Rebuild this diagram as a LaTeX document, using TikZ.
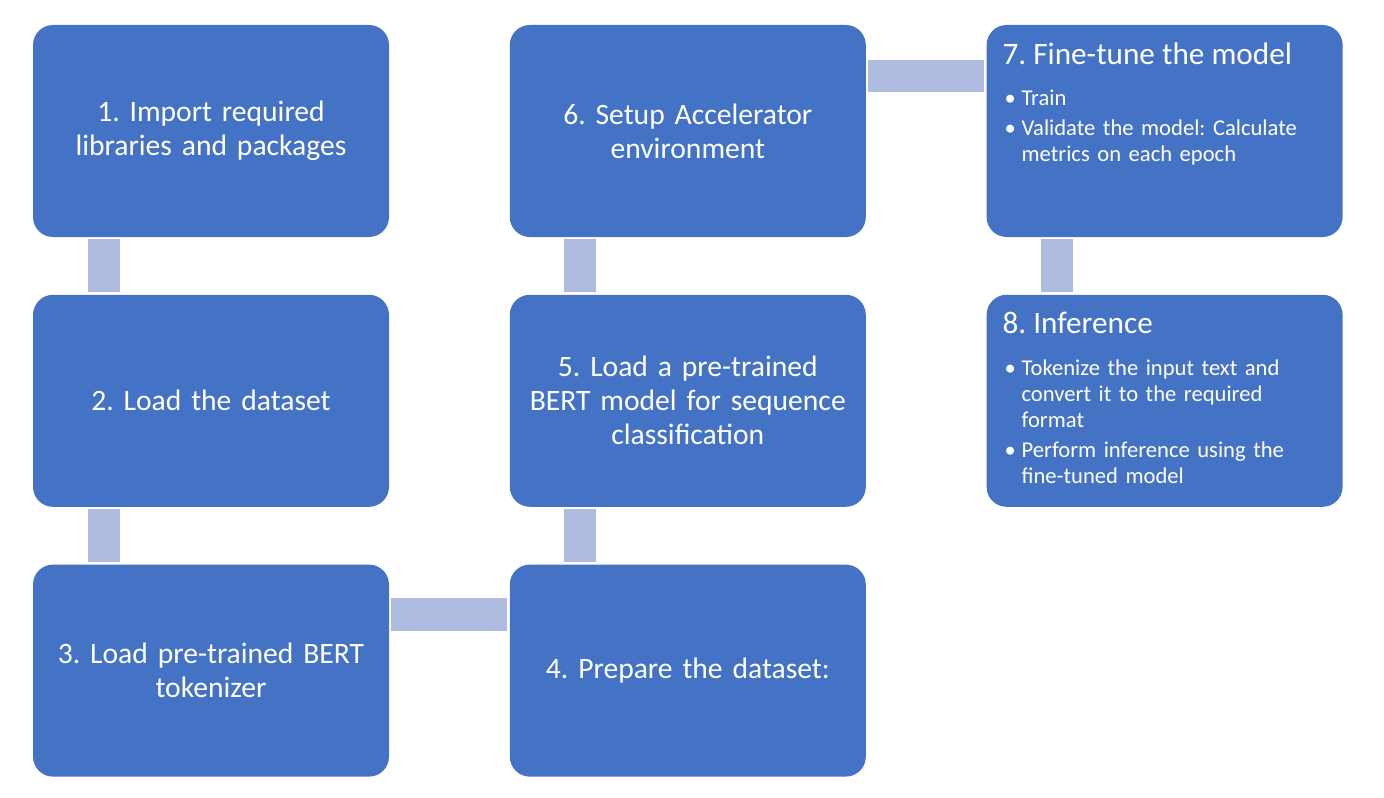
\documentclass[tikz,border=0pt]{standalone}
\usepackage{fontspec}
\setmainfont{Carlito}
\usetikzlibrary{positioning}
\definecolor{boxblue}{HTML}{4472C4}
\definecolor{linkblue}{HTML}{B0BCDF}
\frenchspacing
\tikzstyle{stepbox} = [rectangle, rounded corners=10pt, minimum width=178pt, minimum height=106pt, text width=174pt, align=center, fill=boxblue, text=white, inner sep=0pt, font=\fontsize{14.8}{17}\selectfont]
\tikzstyle{heading} = [anchor=base west, inner sep=0pt, text=white, font=\fontsize{15.6}{18}\selectfont]
\tikzstyle{bullets} = [anchor=north west, inner sep=0pt, text width=165pt, align=left, text=white, font=\fontsize{11.3}{13}\selectfont, execute at begin node={\parindent=0pt\parskip=2pt}]
\tikzstyle{link} = [fill=linkblue]
\newcommand{\bitem}[1]{\hangindent=8.5pt\hangafter=1\makebox[8.5pt][l]{\textbullet}#1\par}

\begin{document}
\begin{tikzpicture}[x=0.5pt, y=-0.5pt, node distance=28.5pt and 60pt]
    \useasboundingbox (0,0) rectangle (1384,797);
    % Nodes
    \node (import_libs) [stepbox] at (211,131) {1. Import required\\libraries and packages};
    \node (load_data) [stepbox, below=of import_libs] {2. Load the dataset};
    \node (load_tok) [stepbox, below=of load_data] {3. Load pre-trained BERT\\tokenizer};
    \node (prep_data) [stepbox, right=of load_tok] {4. Prepare the dataset:};
    \node (load_model) [stepbox, above=of prep_data] {5. Load a pre-trained\\BERT model for sequence\\classification};
    \node (setup_acc) [stepbox, above=of load_model] {6. Setup Accelerator\\environment};
    \node (fine_tune) [stepbox, right=of setup_acc] {};
    \node (inference) [stepbox, below=of fine_tune] {};
    % Texts of steps 7 and 8
    \node (fine_tune_head) [heading] at ([xshift=8pt,yshift=-20pt]fine_tune.north west) {7. Fine-tune the model};
    \node (fine_tune_list) [bullets] at ([xshift=9pt,yshift=-32.5pt]fine_tune.north west) {\bitem{Train}\bitem{Validate the model: Calculate\newline metrics on each epoch}};
    \node (inference_head) [heading] at ([xshift=8pt,yshift=-19.5pt]inference.north west) {8. Inference};
    \node (inference_list) [bullets] at ([xshift=9pt,yshift=-32.5pt]inference.north west) {\bitem{Tokenize the input text and\newline convert it to the required\newline format}\bitem{Perform inference using the\newline fine-tuned model}};
    % Connectors
    \fill [link] ([xshift=27.5pt,yshift=-1pt]import_libs.south west) rectangle ([xshift=43.5pt,yshift=1pt]load_data.north west);
    \fill [link] ([xshift=27.5pt,yshift=-1pt]load_data.south west) rectangle ([xshift=43.5pt,yshift=1pt]load_tok.north west);
    \fill [link] ([xshift=1pt,yshift=-17pt]load_tok.north east) rectangle ([xshift=-1pt,yshift=-33.5pt]prep_data.north west);
    \fill [link] ([xshift=27.5pt,yshift=1pt]prep_data.north west) rectangle ([xshift=43.5pt,yshift=-1pt]load_model.south west);
    \fill [link] ([xshift=27.5pt,yshift=1pt]load_model.north west) rectangle ([xshift=43.5pt,yshift=-1pt]setup_acc.south west);
    \fill [link] ([xshift=1pt,yshift=-17.5pt]setup_acc.north east) rectangle ([xshift=-1pt,yshift=-33.5pt]fine_tune.north west);
    \fill [link] ([xshift=27.5pt,yshift=-1pt]fine_tune.south west) rectangle ([xshift=43.5pt,yshift=1pt]inference.north west);
\end{tikzpicture}
\end{document}
